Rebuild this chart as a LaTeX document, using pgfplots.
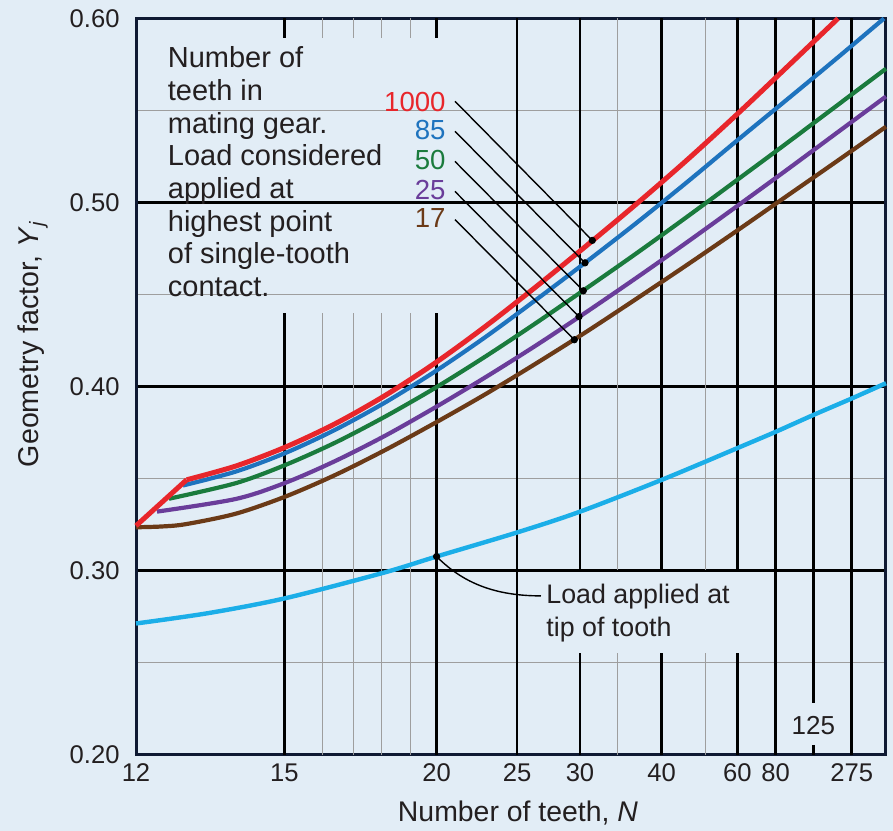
\documentclass[border=0pt]{standalone}
\usepackage{pgfplots}
\pgfplotsset{compat=1.18}
\usepackage{fontspec}
\setmainfont{Liberation Sans}
\definecolor{bgc}{HTML}{E2EDF6}
\definecolor{cred}{HTML}{E8262B}
\definecolor{cblue}{HTML}{1E73BE}
\definecolor{cgreen}{HTML}{1A7B3D}
\definecolor{cpurple}{HTML}{6A3D9A}
\definecolor{cbrown}{HTML}{6B3A17}
\definecolor{ccyan}{HTML}{1BAEE8}
\definecolor{frame}{HTML}{0F1A33}
\definecolor{txt}{HTML}{231F20}
\begin{document}
\begin{tikzpicture}
\path[use as bounding box, fill=bgc] (-68bp,-38.25bp) rectangle (378.5bp,377.25bp);
\begin{axis}[
  at={(0,0)}, anchor=south west,
  scale only axis, width=375bp, height=368bp,
  xmin=0, xmax=750, ymin=0.2, ymax=0.6,
  xtick={0,148.3,300.6,381.2,444,525.7,601.3,639.7,715.8},
  xticklabels={12,15,20,25,30,40,60,80,275},
  ytick={0.2,0.3,0.4,0.5,0.6},
  yticklabels={0.20,0.30,0.40,0.50,0.60},
  minor ytick={0.25,0.35,0.45,0.55},
  ymajorgrids, yminorgrids,
  major grid style={black, line width=1.3bp},
  minor grid style={black!38, line width=0.5bp},
  major tick length=0pt, minor tick length=0pt,
  axis line style={draw=frame, line width=1.5bp},
  /pgf/number format/assume math mode=true,
  ticklabel style={font=\fontsize{12.8bp}{14bp}\selectfont, text=txt},
  xticklabel style={yshift=-1bp},
  yticklabel style={xshift=-4.7bp},
  xlabel={Number of teeth, \textit{N}},
  ylabel={Geometry factor, \textit{Y}\textsubscript{\textit{j}}},
  xlabel style={at={(axis description cs:0.5093,-0.079)}, anchor=center, font=\fontsize{14.2bp}{16bp}\selectfont, text=txt},
  ylabel style={at={(axis description cs:-0.1373,0.5577)}, anchor=center, font=\fontsize{14.3bp}{16bp}\selectfont, text=txt},
  clip=false,
]
% vertical grid: 15..20 (interrupted by the note)
\pgfplotsinvokeforeach{148.3,300.6}{
  \draw[black, line width=1.3bp] (axis cs:#1,0.6) -- (axis cs:#1,0.5895);
  \draw[black, line width=1.3bp] (axis cs:#1,0.4399) -- (axis cs:#1,0.2);
}
\pgfplotsinvokeforeach{186.7,217.7,245.3,274.9}{
  \draw[black!38, line width=0.5bp] (axis cs:#1,0.6) -- (axis cs:#1,0.5895);
  \draw[black!38, line width=0.5bp] (axis cs:#1,0.4399) -- (axis cs:#1,0.2);
}
% full-height lines
\pgfplotsinvokeforeach{381.2,639.7,715.8}{
  \draw[black, line width=1.3bp] (axis cs:#1,0.6) -- (axis cs:#1,0.2);
}
% lines interrupted by "Load applied at" note
\pgfplotsinvokeforeach{444,525.7,601.3}{
  \draw[black, line width=1.3bp] (axis cs:#1,0.6) -- (axis cs:#1,0.30);
  \draw[black, line width=1.3bp] (axis cs:#1,0.255) -- (axis cs:#1,0.2);
}
\pgfplotsinvokeforeach{482,570}{
  \draw[black!38, line width=0.5bp] (axis cs:#1,0.6) -- (axis cs:#1,0.30);
  \draw[black!38, line width=0.5bp] (axis cs:#1,0.255) -- (axis cs:#1,0.2);
}
% 125 line with its label
\draw[black, line width=1.3bp] (axis cs:677.3,0.6) -- (axis cs:677.3,0.2278);
\draw[black, line width=1.3bp] (axis cs:677.3,0.2052) -- (axis cs:677.3,0.2);
\node[anchor=base, inner sep=0pt, text=txt, font=\fontsize{13bp}{15bp}\selectfont] at (axis cs:677.3,0.2106) {125};

% load applied at tip of tooth
\addplot[ccyan, line width=2.2bp, smooth, tension=0.5] coordinates {
 (0,0.2712) (71.9,0.2768) (148.3,0.2848) (247,0.2987) (300.6,0.3076)
 (381.8,0.3208) (444.1,0.3320) (525.9,0.3493) (601.3,0.3665) (640.2,0.3755)
 (677.7,0.3846) (716.6,0.3937) (750,0.4018)};

% mating gear 17
\addplot[cbrown, line width=2.1bp, smooth, tension=0.5] coordinates {
 (0,0.3235) (25,0.3239) (50,0.3252) (100,0.3309) (150,0.3403) (200,0.3521)
 (250,0.3657) (300,0.3805) (350,0.3960) (400,0.4125) (450,0.4296) (500,0.4475)
 (550,0.4657) (600,0.4843) (650,0.5032) (700,0.5221) (750,0.5412)};
% 25
\addplot[cpurple, line width=2.1bp, smooth, tension=0.5] coordinates {
 (21,0.3320) (100,0.3389) (150,0.3478) (200,0.3597) (250,0.3735) (300,0.3889)
 (350,0.4052) (400,0.4223) (450,0.4403) (500,0.4589) (550,0.4780) (600,0.4976)
 (650,0.5174) (700,0.5375) (750,0.5576)};
% 50
\addplot[cgreen, line width=2.1bp, smooth, tension=0.5] coordinates {
 (33,0.3390) (100,0.3475) (150,0.3575) (200,0.3697) (250,0.3839) (300,0.3995)
 (350,0.4165) (400,0.4345) (450,0.4532) (500,0.4722) (550,0.4918) (600,0.5118)
 (650,0.5319) (700,0.5523) (750,0.5727)};
% 85
\addplot[cblue, line width=2.1bp, smooth, tension=0.5] coordinates {
 (47,0.3462) (100,0.3538) (150,0.3640) (200,0.3767) (250,0.3916) (300,0.4085)
 (350,0.4271) (400,0.4471) (450,0.4676) (500,0.4887) (550,0.5106) (600,0.5332)
 (650,0.5555) (700,0.5780) (748,0.6)};
% 1000
\addplot[cred, line width=2.5bp] coordinates {(0,0.3243) (50.7,0.3493)};
\addplot[cred, line width=2.5bp, smooth, tension=0.5] coordinates {
 (50.7,0.3493) (100,0.3568) (150,0.3672) (200,0.3800) (250,0.3954) (300,0.4131)
 (350,0.4329) (400,0.4542) (450,0.4763) (500,0.4990) (550,0.5226) (600,0.5474)
 (650,0.5731) (702,0.6)};

% leader lines
\addplot[black, line width=0.7bp] coordinates {(319,0.5550) (456.3,0.4794)};
\addplot[black, line width=0.7bp] coordinates {(319,0.5387) (449,0.4672)};
\addplot[black, line width=0.7bp] coordinates {(319,0.5223) (447.3,0.4520)};
\addplot[black, line width=0.7bp] coordinates {(319,0.5060) (443,0.4380)};
\addplot[black, line width=0.7bp] coordinates {(319,0.4907) (438.3,0.4254)};
\addplot[black, only marks, mark=*, mark size=1.6bp] coordinates {
 (456.3,0.4794) (449,0.4672) (447.3,0.4520) (443,0.4380) (438.3,0.4254) (300.6,0.3076)};
\draw[black, line width=0.7bp] (axis cs:300.6,0.3076) .. controls (axis cs:324,0.2949) and (axis cs:354,0.2862) .. (axis cs:405,0.2862);

% note text
\node[anchor=base west, inner sep=0pt, text=txt, font=\fontsize{14.5bp}{16.3bp}\selectfont] at (axis cs:31.5,0.5731) {Number of};
\node[anchor=base west, inner sep=0pt, text=txt, font=\fontsize{14.5bp}{16.3bp}\selectfont] at (axis cs:31.5,0.5554) {teeth in};
\node[anchor=base west, inner sep=0pt, text=txt, font=\fontsize{14.5bp}{16.3bp}\selectfont] at (axis cs:31.5,0.5377) {mating gear.};
\node[anchor=base west, inner sep=0pt, text=txt, font=\fontsize{14.5bp}{16.3bp}\selectfont] at (axis cs:31.5,0.5200) {Load considered};
\node[anchor=base west, inner sep=0pt, text=txt, font=\fontsize{14.5bp}{16.3bp}\selectfont] at (axis cs:31.5,0.5022) {applied at};
\node[anchor=base west, inner sep=0pt, text=txt, font=\fontsize{14.5bp}{16.3bp}\selectfont] at (axis cs:31.5,0.4845) {highest point};
\node[anchor=base west, inner sep=0pt, text=txt, font=\fontsize{14.5bp}{16.3bp}\selectfont] at (axis cs:31.5,0.4668) {of single-tooth};
\node[anchor=base west, inner sep=0pt, text=txt, font=\fontsize{14.5bp}{16.3bp}\selectfont] at (axis cs:31.5,0.4491) {contact.};

\node[anchor=base east, inner sep=0pt, font=\fontsize{13.8bp}{16bp}\selectfont, text=cred] at (axis cs:310,0.5495) {1000};
\node[anchor=base east, inner sep=0pt, font=\fontsize{13.8bp}{16bp}\selectfont, text=cblue] at (axis cs:310,0.5341) {85};
\node[anchor=base east, inner sep=0pt, font=\fontsize{13.8bp}{16bp}\selectfont, text=cgreen] at (axis cs:310,0.5178) {50};
\node[anchor=base east, inner sep=0pt, font=\fontsize{13.8bp}{16bp}\selectfont, text=cpurple] at (axis cs:310,0.5015) {25};
\node[anchor=base east, inner sep=0pt, font=\fontsize{13.8bp}{16bp}\selectfont, text=cbrown] at (axis cs:310,0.4863) {17};

\node[anchor=base west, inner sep=0pt, text=txt, font=\fontsize{13.4bp}{16bp}\selectfont] at (axis cs:410,0.2822) {Load applied at};
\node[anchor=base west, inner sep=0pt, text=txt, font=\fontsize{13.4bp}{16bp}\selectfont] at (axis cs:410,0.2644) {tip of tooth};
\end{axis}
\end{tikzpicture}
\end{document}
